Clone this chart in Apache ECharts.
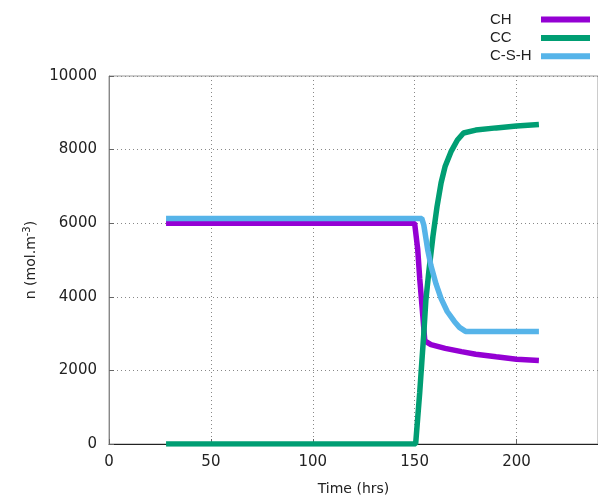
<!DOCTYPE html>
<html>
<head>
<meta charset="utf-8">
<script src="https://cdn.jsdelivr.net/npm/echarts@6/dist/echarts.min.js"></script>
<style>html,body{margin:0;padding:0;background:#fff}#c{width:598px;height:501px}</style>
</head>
<body>
<div id="c"></div>
<script>
// Series data: [time (hrs), n (mol.m-3)]
const seriesNames = ['CH', 'CC', 'C-S-H'];
const chData = [[28,6000],[150,6000],[151.5,5300],[152.5,4500],[154,3500],[155,2800],[158,2700],[165,2600],[173,2510],[180,2440],[190,2370],[200,2305],[211,2270]];
const ccData = [[28,0],[150.5,0],[151.5,700],[152.5,1400],[153.5,2200],[154.5,3000],[155.5,3900],[157,4700],[159,5650],[161,6450],[163,7100],[165,7550],[168,7960],[171,8260],[174,8450],[180,8530],[190,8590],[200,8640],[211,8680]];
const cshData = [[28,6130],[153.5,6130],[154.5,5950],[155.5,5600],[156.5,5250],[158,4850],[160.5,4350],[163,3950],[166,3600],[169.5,3330],[172,3170],[175,3060],[211,3060]];
const xTicks = [0, 50, 100, 150, 200];
const yTicks = [0, 2000, 4000, 6000, 8000, 10000];
const colors = ['#9400d3', '#009e73', '#56b4e9'];

const chart = echarts.init(document.getElementById('c'));
const labelFont = {fontFamily: 'DejaVu Sans', fontSize: 15, color: '#222'};
chart.setOption({
  animation: false,
  grid: {left: 109, top: 76, bottom: 55, right: -3, show: true, borderColor: '#999', borderWidth: 1},
  legend: {
    orient: 'vertical', right: 3, top: 7, align: 'right',
    itemWidth: 49, itemHeight: 6, itemGap: 3.4, icon: 'rect',
    data: seriesNames,
    formatter: '{a|{name}}',
    textStyle: {rich: {a: {width: 46, align: 'left', fontFamily: 'Liberation Sans', fontSize: 15, lineHeight: 16, color: '#222'}}}
  },
  xAxis: {
    type: 'value', min: 0, max: 240, interval: 50,
    name: 'Time (hrs)', nameLocation: 'middle', nameGap: 38,
    nameTextStyle: {fontFamily: 'DejaVu Sans', fontSize: 14, color: '#222'},
    axisLine: {lineStyle: {color: '#222', width: 1}},
    axisTick: {inside: true, length: 5, lineStyle: {color: '#666'}},
    axisLabel: Object.assign({margin: 11, showMaxLabel: false, formatter: v => xTicks.includes(v) ? String(v) : ''}, labelFont),
    splitLine: {show: true, lineStyle: {type: [1, 3], color: '#888'}}
  },
  yAxis: {
    type: 'value', min: 0, max: 10000, interval: 2000,
    name: 'n (mol.m{sup|-3})', nameLocation: 'middle', nameGap: 62,
    nameTextStyle: {fontFamily: 'DejaVu Sans', fontSize: 14, color: '#222',
      rich: {sup: {fontFamily: 'DejaVu Sans', fontSize: 10, color: '#222', padding: [0, 0, 8, 0]}}},
    axisLine: {show: true, lineStyle: {color: '#888', width: 1}},
    axisTick: {inside: true, length: 5, lineStyle: {color: '#666'}},
    axisLabel: Object.assign({margin: 12, formatter: v => yTicks.includes(v) ? String(v) : ''}, labelFont),
    splitLine: {show: true, lineStyle: {type: [1, 3], color: '#888'}}
  },
  series: [
    {name: seriesNames[0], type: 'line', data: chData, showSymbol: false, color: colors[0], lineStyle: {width: 5.5}},
    {name: seriesNames[1], type: 'line', data: ccData, showSymbol: false, color: colors[1], lineStyle: {width: 5.5}},
    {name: seriesNames[2], type: 'line', data: cshData, showSymbol: false, color: colors[2], lineStyle: {width: 5.5}}
  ]
});
</script>
</body>
</html>
